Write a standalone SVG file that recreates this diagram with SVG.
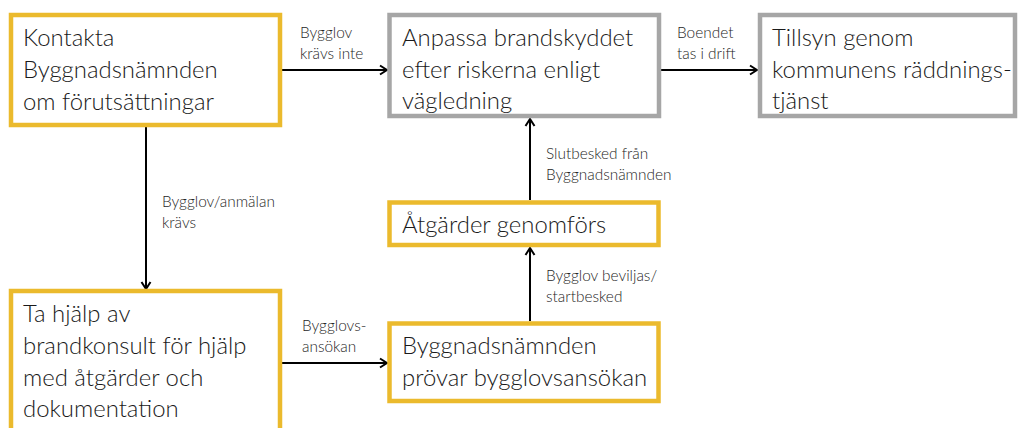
<svg xmlns="http://www.w3.org/2000/svg" width="1019" height="428" viewBox="0 0 1019 428">
<defs>
<marker id="arr" viewBox="0 0 12 12" refX="11" refY="6" markerWidth="12" markerHeight="12" markerUnits="userSpaceOnUse" orient="auto">
<polyline points="4,1.5 11,6 4,10.5" fill="none" stroke="#000" stroke-width="2"/>
</marker>
<style>
.y{fill:#fff;stroke:#EBBA2D;stroke-width:4.5}
.g{fill:#fff;stroke:#A6A6A6;stroke-width:4.5}
.t{font-family:Lato,"Liberation Sans",sans-serif;font-weight:300;font-size:23.9px;fill:#1a1a1a}
.l{font-family:Lato,"Liberation Sans",sans-serif;font-weight:300;font-size:15.4px;fill:#262626}
.c{stroke:#000;stroke-width:2;fill:none;marker-end:url(#arr)}
</style>
</defs>
<rect width="1019" height="428" fill="#fff"/>
<g id="connectors">
<line class="c" x1="282" y1="70" x2="387" y2="70"/>
<line class="c" x1="661" y1="70" x2="757" y2="70"/>
<line class="c" x1="146" y1="127" x2="146" y2="289"/>
<line class="c" x1="282" y1="363" x2="387" y2="363"/>
<line class="c" x1="530" y1="321" x2="530" y2="248"/>
<line class="c" x1="530" y1="200" x2="530" y2="119"/>
<text class="l" x="300" y="38">Bygglov</text>
<text class="l" x="300" y="59">krävs inte</text>
<text class="l" x="677" y="38">Boendet</text>
<text class="l" x="677" y="59">tas i drift</text>
<text class="l" x="162" y="207">Bygglov/anmälan</text>
<text class="l" x="162" y="228">krävs</text>
<text class="l" x="302" y="331">Bygglovs-</text>
<text class="l" x="302" y="352">ansökan</text>
<text class="l" x="546" y="281">Bygglov beviljas/</text>
<text class="l" x="546" y="302">startbesked</text>
<text class="l" x="546" y="159">Slutbesked från</text>
<text class="l" x="546" y="180">Byggnadsnämnden</text>
</g>
<g id="n1">
<rect class="y" x="11" y="15" width="269" height="110"/>
<text class="t" x="23" y="46">Kontakta</text>
<text class="t" x="23" y="78">Byggnadsnämnden</text>
<text class="t" x="23" y="110">om förutsättningar</text>
</g>
<g id="n2">
<rect class="g" x="389.5" y="15" width="269.5" height="101"/>
<text class="t" x="402" y="46">Anpassa brandskyddet</text>
<text class="t" x="402" y="78">efter riskerna enligt</text>
<text class="t" x="402" y="109">vägledning</text>
</g>
<g id="n3">
<rect class="g" x="760" y="15" width="255" height="101"/>
<text class="t" x="772" y="46">Tillsyn genom</text>
<text class="t" x="772" y="78">kommunens räddnings-</text>
<text class="t" x="772" y="109">tjänst</text>
</g>
<g id="n4">
<rect class="y" x="11" y="291" width="269" height="160"/>
<text class="t" x="23" y="322">Ta hjälp av</text>
<text class="t" x="23" y="354">brandkonsult för hjälp</text>
<text class="t" x="23" y="386">med åtgärder och</text>
<text class="t" x="23" y="417">dokumentation</text>
</g>
<g id="n5">
<rect class="y" x="389.5" y="202.5" width="269" height="42.5"/>
<text class="t" x="402" y="233">Åtgärder genomförs</text>
</g>
<g id="n6">
<rect class="y" x="389.5" y="323.5" width="269" height="77.5"/>
<text class="t" x="402" y="354">Byggnadsnämnden</text>
<text class="t" x="402" y="386">prövar bygglovsansökan</text>
</g>
</svg>
